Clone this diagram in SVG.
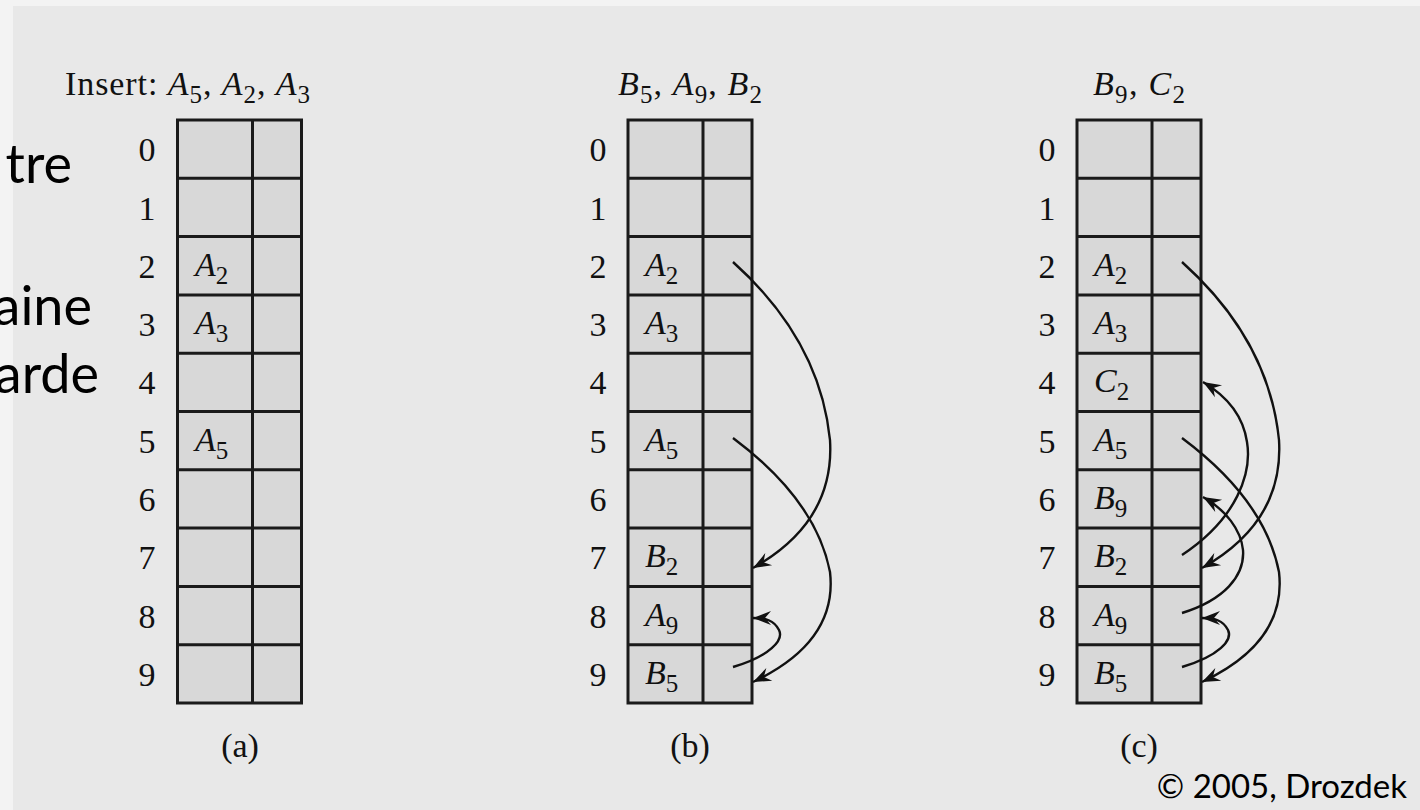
<svg xmlns="http://www.w3.org/2000/svg" width="1420" height="810" viewBox="0 0 1420 810">
  <style>
    .serif { font-family: "Liberation Serif", "DejaVu Serif", serif; font-size: 34px; fill: #111; }
    .it { font-style: italic; }
    .sub { font-size: 25px; font-style: normal; }
    .sans { font-family: Lato, "Open Sans", "DejaVu Sans", sans-serif; fill: #000; }
    .cell { fill: #d8d8d8; stroke: #1a1a1a; stroke-width: 3; }
    .grid { stroke: #1a1a1a; stroke-width: 3; fill: none; }
    .link { fill: none; stroke: #111; stroke-width: 2.4; marker-end: url(#ah); }
    .num { text-anchor: middle; }
  </style>
  <defs>
    <marker id="ah" viewBox="-19 -9 21 18" refX="0" refY="0" markerWidth="21" markerHeight="18" markerUnits="userSpaceOnUse" orient="auto">
      <path d="M0,0 L-18,-7 L-12,0 L-18,7 Z" fill="#111"/>
    </marker>
    <!-- one empty hash table: 10 rows of 58.3px, key column + link column -->
    <g id="table">
      <rect class="cell" x="0" y="0" width="124" height="583"/>
      <path class="grid" d="M75,0 V583 M0,58.3 H124 M0,116.6 H124 M0,174.9 H124 M0,233.2 H124 M0,291.5 H124 M0,349.8 H124 M0,408.1 H124 M0,466.4 H124 M0,524.7 H124"/>
    </g>
    <g id="idx">
      <text class="serif num" x="0" y="161">0</text>
      <text class="serif num" x="0" y="220">1</text>
      <text class="serif num" x="0" y="278">2</text>
      <text class="serif num" x="0" y="336">3</text>
      <text class="serif num" x="0" y="394">4</text>
      <text class="serif num" x="0" y="453">5</text>
      <text class="serif num" x="0" y="511">6</text>
      <text class="serif num" x="0" y="569">7</text>
      <text class="serif num" x="0" y="628">8</text>
      <text class="serif num" x="0" y="686">9</text>
    </g>
  </defs>

  <!-- page and panel background -->
  <rect x="0" y="0" width="1420" height="810" fill="#f3f3f3"/>
  <rect x="13" y="6" width="1407" height="804" fill="#e8e8e8"/>

  <!-- slide text cut off at the left edge -->
  <g id="side-text" class="sans" font-size="54" text-anchor="end">
    <text x="72" y="183">tre</text>
    <text x="92" y="325">aine</text>
    <text x="99" y="393">arde</text>
  </g>

  <!-- (a) after inserting A5, A2, A3 -->
  <g id="table-a">
    <text class="serif" x="65" y="95" textLength="245" lengthAdjust="spacing">Insert: <tspan class="it">A</tspan><tspan class="sub" dy="8">5</tspan><tspan dy="-8">, </tspan><tspan class="it">A</tspan><tspan class="sub" dy="8">2</tspan><tspan dy="-8">, </tspan><tspan class="it">A</tspan><tspan class="sub" dy="8">3</tspan></text>
    <use href="#table" x="177.5" y="120"/>
    <use href="#idx" x="147" y="0"/>
    <g class="serif">
      <text x="195" y="276"><tspan class="it">A</tspan><tspan class="sub" dy="8">2</tspan></text>
      <text x="195" y="334"><tspan class="it">A</tspan><tspan class="sub" dy="8">3</tspan></text>
      <text x="195" y="451"><tspan class="it">A</tspan><tspan class="sub" dy="8">5</tspan></text>
    </g>
    <text class="serif num" x="240" y="757">(a)</text>
  </g>

  <!-- (b) after inserting B5, A9, B2 -->
  <g id="table-b">
    <text class="serif" x="618" y="95" textLength="144" lengthAdjust="spacing"><tspan class="it">B</tspan><tspan class="sub" dy="8">5</tspan><tspan dy="-8">, </tspan><tspan class="it">A</tspan><tspan class="sub" dy="8">9</tspan><tspan dy="-8">, </tspan><tspan class="it">B</tspan><tspan class="sub" dy="8">2</tspan></text>
    <use href="#table" x="628" y="120"/>
    <use href="#idx" x="598" y="0"/>
    <g class="serif">
      <text x="645" y="276"><tspan class="it">A</tspan><tspan class="sub" dy="8">2</tspan></text>
      <text x="645" y="334"><tspan class="it">A</tspan><tspan class="sub" dy="8">3</tspan></text>
      <text x="645" y="451"><tspan class="it">A</tspan><tspan class="sub" dy="8">5</tspan></text>
      <text x="645" y="567"><tspan class="it">B</tspan><tspan class="sub" dy="8">2</tspan></text>
      <text x="645" y="626"><tspan class="it">A</tspan><tspan class="sub" dy="8">9</tspan></text>
      <text x="645" y="684"><tspan class="it">B</tspan><tspan class="sub" dy="8">5</tspan></text>
    </g>
    <text class="serif num" x="690" y="757">(b)</text>
  </g>

  <!-- (c) after inserting B9, C2 -->
  <g id="table-c">
    <text class="serif" x="1093" y="95" textLength="92" lengthAdjust="spacing"><tspan class="it">B</tspan><tspan class="sub" dy="8">9</tspan><tspan dy="-8">, </tspan><tspan class="it">C</tspan><tspan class="sub" dy="8">2</tspan></text>
    <use href="#table" x="1077" y="120"/>
    <use href="#idx" x="1047" y="0"/>
    <g class="serif">
      <text x="1094" y="276"><tspan class="it">A</tspan><tspan class="sub" dy="8">2</tspan></text>
      <text x="1094" y="334"><tspan class="it">A</tspan><tspan class="sub" dy="8">3</tspan></text>
      <text x="1094" y="392"><tspan class="it">C</tspan><tspan class="sub" dy="8">2</tspan></text>
      <text x="1094" y="451"><tspan class="it">A</tspan><tspan class="sub" dy="8">5</tspan></text>
      <text x="1094" y="509"><tspan class="it">B</tspan><tspan class="sub" dy="8">9</tspan></text>
      <text x="1094" y="567"><tspan class="it">B</tspan><tspan class="sub" dy="8">2</tspan></text>
      <text x="1094" y="626"><tspan class="it">A</tspan><tspan class="sub" dy="8">9</tspan></text>
      <text x="1094" y="684"><tspan class="it">B</tspan><tspan class="sub" dy="8">5</tspan></text>
    </g>
    <text class="serif num" x="1139" y="757">(c)</text>
  </g>

  <!-- chaining links -->
  <g id="connectors">
    <!-- table b -->
    <path class="link" d="M733,262 Q820,340 830,440 Q835,522 753,568"/>
    <path class="link" d="M733,438 Q816,500 830,572 Q838,642 753,682"/>
    <path class="link" d="M733,667 C770,656 784,640 779,630 C774,620 765,618 753,618"/>
    <!-- table c -->
    <path class="link" d="M1182,262 Q1269,340 1279,440 Q1284,522 1202,568"/>
    <path class="link" d="M1182,438 Q1265,500 1279,572 Q1287,642 1202,682"/>
    <path class="link" d="M1182,667 C1219,656 1233,640 1228,630 C1223,620 1214,618 1202,618"/>
    <path class="link" d="M1182,555 C1238,518 1252,472 1247,442 C1243,415 1225,395 1203,382"/>
    <path class="link" d="M1182,613 C1224,600 1245,576 1243,550 C1241,530 1226,510 1203,497"/>
  </g>

  <text id="credit" class="sans" x="1407" y="798" font-size="33" text-anchor="end">© 2005, Drozdek</text>
</svg>
